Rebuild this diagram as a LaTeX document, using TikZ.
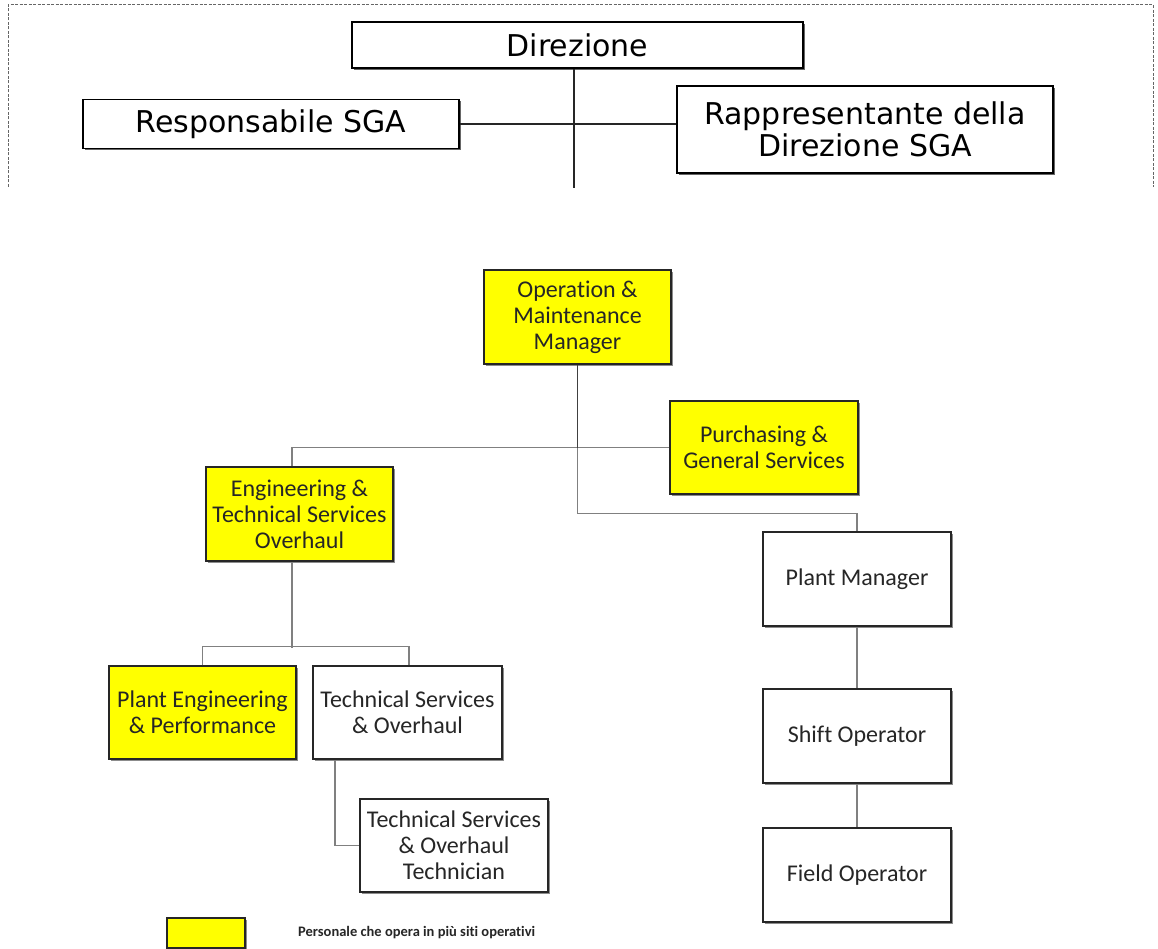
\documentclass[tikz,border=0pt]{standalone}
\usepackage{fontspec}
\usetikzlibrary{shadows,calc}
\newfontfamily\verdfont{DejaVu Sans}
\newfontfamily\calfont[Ligatures=NoCommon]{Carlito}
\definecolor{boxyellow}{RGB}{255,255,0}
\definecolor{connGray}{RGB}{128,128,128}
\tikzset{
  topbox/.style={draw=black, line width=1.5pt, fill=white, inner sep=0pt, align=center,
    font=\verdfont\fontsize{30}{36}\selectfont,
    drop shadow={shadow xshift=2pt, shadow yshift=-2pt, fill=black!60, opacity=1}},
  orgbox/.style={draw=black!85, line width=1.5pt, fill=white, inner sep=0pt, align=center,
    text=black!85, font=\calfont\fontsize{24}{26}\selectfont,
    drop shadow={shadow xshift=2pt, shadow yshift=-2pt, fill=black!45, opacity=1}},
  ybox/.style={orgbox, fill=boxyellow},
  topconn/.style={draw=black!85, line width=2pt},
  conn/.style={draw=connGray, line width=1.5pt},
  darkconn/.style={draw=black!75, line width=1.5pt},
  frame/.style={draw=black!60, line width=1pt, dash pattern=on 3pt off 1.5pt}
}
\begin{document}
\begin{tikzpicture}[x=1pt,y=-1pt]
\useasboundingbox (0,0) rectangle (1158,949);
\fill[white] (0,0) rectangle (1158,949);
% dashed frame of the top section
\draw[frame] (8,187) -- (8,5) -- (1153,5) -- (1153,187);
% top section
\node[topbox, minimum width=451pt, minimum height=46pt] (dir) at (577.5,45) {Direzione};
\node[topbox, minimum width=376pt, minimum height=49pt] (resp) at (271,124) {Responsabile SGA};
\node[topbox, minimum width=376pt, minimum height=87pt] (rapp) at (865,129.5) {Rappresentante della\\[-4pt]Direzione SGA};
\coordinate (dirend) at ($(dir.south)+(-4,119)$);
\draw[topconn] ($(dir.south)+(-4,0)$) -- (dirend);
\draw[topconn] (resp.east) -- (resp.east -| rapp.west);
% lower org chart
\node[ybox, minimum width=187pt, minimum height=94pt] (om) at (577.5,317) {Operation \&\\Maintenance\\Manager};
\node[ybox, minimum width=188pt, minimum height=93pt] (pur) at (764,447.5) {Purchasing \&\\General Services};
\node[ybox, minimum width=187pt, minimum height=94pt] (eng) at (299.5,514) {Engineering \&\\Technical Services\\Overhaul};
\node[orgbox, minimum width=188pt, minimum height=94pt] (pm) at (857,579) {Plant Manager};
\node[orgbox, minimum width=188pt, minimum height=94pt] (so) at (857,736) {Shift Operator};
\node[orgbox, minimum width=188pt, minimum height=94pt] (fo) at (857,875) {Field Operator};
\node[ybox, minimum width=187pt, minimum height=93pt] (pe) at (202.5,712.5) {Plant Engineering\\\& Performance};
\node[orgbox, minimum width=189pt, minimum height=93pt] (tso) at (407.5,712.5) {Technical Services\\\& Overhaul};
\node[orgbox, minimum width=188pt, minimum height=93pt] (tst) at (454,845.5) {Technical Services\\\& Overhaul\\Technician};
% legend
\node[ybox, minimum width=78pt, minimum height=30pt] (leg) at (206,933) {};
\node[anchor=west, inner sep=0pt, text=black!85, font=\calfont\bfseries\fontsize{14.5}{17}\selectfont] (legtext) at (298,933) {Personale che opera in più siti operativi};
% connectors
\coordinate (j1) at (om.south |- pur.west);
\coordinate (j2) at ($(pm.north)+(0,-18)$);
\draw[conn] (j1) -- (om.south |- j2) -- (j2) -- (pm.north);
\draw[conn] (pur.west) -| ($(eng.north)+(-7.5,0)$);
\draw[darkconn] (om.south) -- (j1);
\coordinate (j3) at ($(eng.south)+(-7.5,86)$);
\draw[conn] ($(eng.south)+(-7.5,0)$) -- (j3);
\draw[conn] (pe.north) -- ($(pe.north)+(0,-19)$) -- ($(tso.north)+(1.5,-19)$) -- ($(tso.north)+(1.5,0)$);
\draw[conn] ($(tso.south)+(-72.5,0)$) |- (tst.west);
\draw[conn] (pm.south) -- (so.north);
\draw[conn] (so.south) -- (fo.north);
\end{tikzpicture}
\end{document}
